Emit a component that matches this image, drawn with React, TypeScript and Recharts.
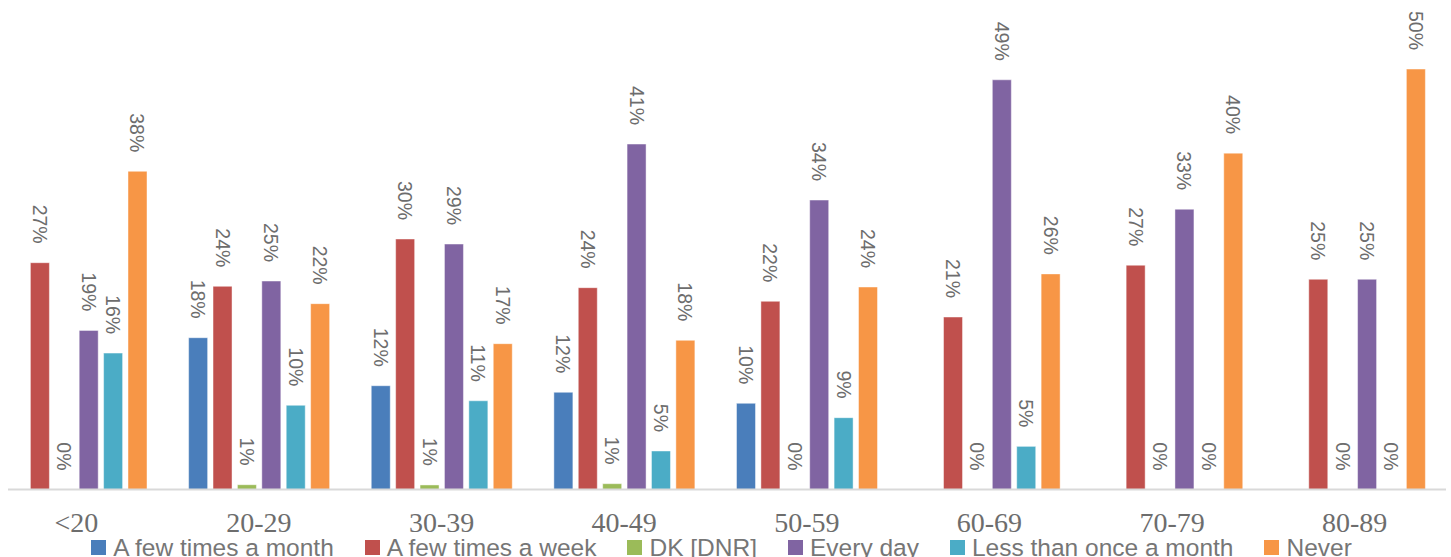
import React from 'react';
import { BarChart, Bar, XAxis, YAxis, Legend, LabelList } from 'recharts';

const categories = ['<20', '20-29', '30-39', '40-49', '50-59', '60-69', '70-79', '80-89'];
const fewTimesMonth = [null, 0.1805, 0.1234, 0.1156, 0.1025, null, null, null];
const fewTimesWeek = [0.2697, 0.2416, 0.2979, 0.24, 0.2238, 0.2051, 0.2667, 0.25];
const dkDnr = [0, 0.0057, 0.0054, 0.0069, 0, 0, 0, 0];
const everyDay = [0.1892, 0.2479, 0.2919, 0.4108, 0.3442, 0.4872, 0.3333, 0.25];
const lessThanMonth = [0.1622, 0.1001, 0.1055, 0.0458, 0.0854, 0.0513, 0, 0];
const never = [0.3784, 0.221, 0.1734, 0.1774, 0.2408, 0.2564, 0.4, 0.5];

const seriesNames = ['A few times a month', 'A few times a week', 'DK [DNR]', 'Every day', 'Less than once a month', 'Never'];
const seriesValues = [fewTimesMonth, fewTimesWeek, dkDnr, everyDay, lessThanMonth, never];
const seriesColors = ['#4a7ebb', '#c0504d', '#9bbb59', '#8064a2', '#4bacc6', '#f79646'];

const data = categories.map((c, i) => {
  const row: Record<string, any> = { category: c };
  seriesNames.forEach((n, s) => {
    row[n] = seriesValues[s][i];
  });
  return row;
});

const TEXT = '#6d6d6d';

const renderLabel = (props: any) => {
  const { x, y, width, height, value } = props;
  if (value === null || value === undefined) return null;
  const cx = Number(x) + Number(width) / 2;
  const top = Number(y) + Math.min(0, Number(height) || 0);
  const ay = top - 19;
  return (
    <text
      x={cx}
      y={ay}
      dy="0.36em"
      transform={`rotate(90, ${cx}, ${ay})`}
      textAnchor="end"
      fill={TEXT}
      fontSize={19.5}
      fontFamily="'Liberation Sans', sans-serif"
    >
      {`${Math.round(Number(value) * 100)}%`}
    </text>
  );
};

const renderLegend = (props: any) => {
  const { payload } = props;
  return (
    <div
      style={{
        display: 'flex',
        justifyContent: 'center',
        alignItems: 'center',
        gap: 31,
        height: 24,
        lineHeight: '24px',
        fontFamily: "'Liberation Sans', sans-serif",
        fontSize: 24.5,
        color: '#767676',
        whiteSpace: 'nowrap',
      }}
    >
      {payload.map((p: any) => (
        <div key={p.value} style={{ display: 'flex', alignItems: 'center' }}>
          <span style={{ display: 'inline-block', width: 15, height: 15, background: p.color, marginRight: 7 }} />
          <span>{p.value}</span>
        </div>
      ))}
    </div>
  );
};

export default function App() {
  return (
    <div style={{ position: 'absolute', left: 8, top: 0, width: 1443, height: 557, overflow: 'hidden', background: '#fff' }}>
      <div style={{ position: 'absolute', left: -23, top: 0 }}>
        <BarChart
          width={1461}
          height={557}
          data={data}
          margin={{ top: 27, right: 0, bottom: 0, left: 0 }}
          barSize={19}
          barGap={5.4}
        >
          <XAxis
            dataKey="category"
            tickLine={false}
            tickSize={0}
            tickMargin={23}
            height={43.5}
            axisLine={{ stroke: '#d9d9d9', strokeWidth: 2 }}
            tick={{ fill: TEXT, fontSize: 28, fontFamily: "'Liberation Serif', serif" }}
            interval={0}
          />
          <YAxis hide domain={[0, 0.55]} />
          <Legend
            content={renderLegend}
            verticalAlign="bottom"
            wrapperStyle={{ top: 535.5, bottom: 'auto', left: 6 }}
          />
          {seriesNames.map((n, s) => (
            <Bar
              key={n}
              dataKey={n}
              fill={seriesColors[s]}
              stroke="#ffffff"
              strokeOpacity={0.45}
              strokeWidth={1}
              minPointSize={0.01}
              isAnimationActive={false}
            >
              <LabelList dataKey={n} content={renderLabel} />
            </Bar>
          ))}
        </BarChart>
      </div>
    </div>
  );
}
